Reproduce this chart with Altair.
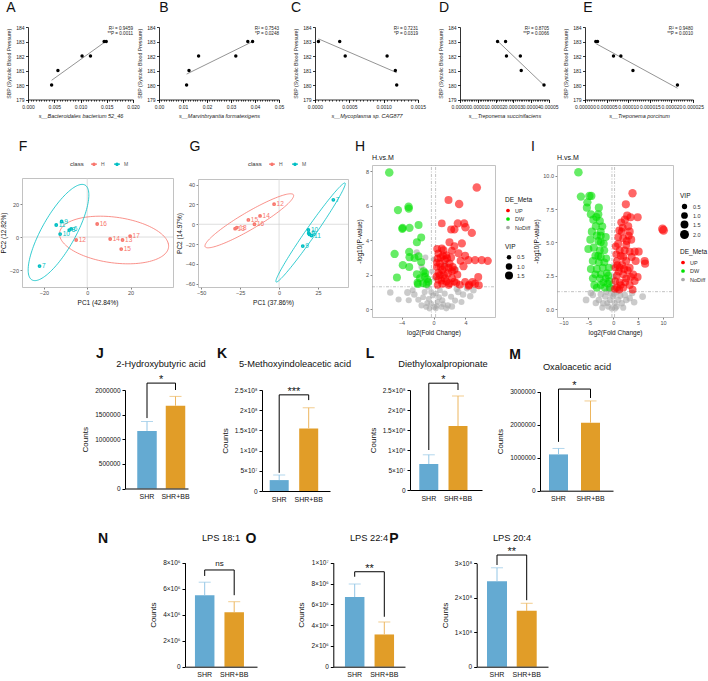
import altair as alt
import pandas as pd

W, H = 708, 681
FONT = "Liberation Sans"

# ---------------- Row 1: SBP correlations ----------------
SBP_TICKS = [179, 180, 181, 182, 183, 184]
A_X = [0.0045, 0.0057, 0.0103, 0.0119, 0.0145, 0.0149]
A_Y = [180, 181, 182, 182, 183, 183]
B_X = [0.0115, 0.0125, 0.0165, 0.0320, 0.0370, 0.0390]
B_Y = [180, 181, 182, 182, 183, 183]
C_X = [0.00005, 0.00036, 0.00044, 0.00105, 0.00117, 0.00119]
C_Y = [183, 183, 182, 182, 181, 180]
D_X = [0.0000211, 0.0000256, 0.0000261, 0.0000339, 0.0000344, 0.0000472]
D_Y = [183, 183, 182, 182, 181, 180]
E_X = [0.0000025, 0.0000029, 0.0000066, 0.0000083, 0.0000111, 0.0000214]
E_Y = [183, 183, 182, 182, 181, 180]
SC_XTITLES = ["s__Bacteroidales bacterium 52_46", "s__Marvinbryantia formatexigens",
              "s__Mycoplasma sp. CAG877", "s__Treponema succinifaciens", "s__Treponema porcinum"]
SC_R2 = ["R² = 0.9459", "R² = 0.7543", "R² = 0.7231", "R² = 0.8705", "R² = 0.9480"]
SC_P = ["**P = 0.0011", "*P = 0.0248", "*P = 0.0319", "**P = 0.0066", "**P = 0.0010"]
SC_XMAX = [0.02, 0.05, 0.0015, 0.00005, 0.000025]
SC_MAJOR = [0.005, 0.01, 0.0005, 0.00001, 0.000005]
SC_FMT = [".3f", ".2f", ".4f", ".5f", ".6f"]

# ---------------- Row 2: PCA ----------------
F_LAB = ["16", "12", "14", "13", "17", "15", "11", "9", "10", "8", "6", "7"]
F_X = [4.6, -5.1, 10.6, 16.3, 19.8, 15.7, -14.3, -11.8, -12.5, -8.3, -7.4, -22.0]
F_Y = [7.9, -1.8, -1.2, -1.8, 0.6, -7.3, 7.3, 9.4, 1.8, 4.2, 4.9, -17.6]
F_CLS = ["H"] * 6 + ["M"] * 6
G_LAB = ["12", "14", "15", "16", "18", "13", "7", "10", "8", "11", "9", "6"]
G_X = [-3.2, -12.2, -19.7, -15.8, -27.1, -28.2, 34.8, 18.8, 19.5, 20.8, 15.2, 19.0]
G_Y = [20.3, 8.4, 4.4, 0.0, -3.4, -4.5, 24.7, -5.8, -10.3, -11.5, -22.1, -9.0]
G_CLS = ["H"] * 6 + ["M"] * 6
# ellipse (class, centre x, centre y, semi-axis u, conjugate semi-axis v)
F_ELL = [("H", 12.4, -1.8, 25.0, -2.0, -3.0, 14.3), ("M", -13.25, 2.75, 12.25, 28.75, 6.8, -5.0)]
G_ELL = [("H", -19.1, 3.5, 28.3, 26.3, 2.8, -7.5), ("M", 20.2, -8.35, 22.1, 50.05, 2.6, -2.9)]

# ---------------- Row 2: volcano (log2FC, -log10 p, VIP) ----------------
H_UP = [(5.42, 7.05, 1.7), (1.88, 6.32, 1.5), (3.21, 6.09, 1.7), (1.04, 4.97, 1.4), (3.04, 4.97, 1.6),
        (3.84, 4.97, 1.6), (4.0, 4.75, 1.7), (2.21, 4.62, 1.5), (2.62, 4.62, 1.6), (4.8, 4.42, 1.6),
        (2.0, 3.88, 1.5), (3.55, 3.81, 1.6), (2.62, 3.65, 1.4), (1.04, 3.52, 1.4), (1.25, 3.42, 1.5),
        (2.3, 3.4, 1.4), (3.13, 3.24, 1.5), (3.96, 3.09, 1.5), (5.21, 2.84, 1.6), (6.04, 2.84, 1.6),
        (6.79, 2.8, 1.6), (4.38, 2.84, 1.6), (3.75, 2.49, 1.6), (2.4, 2.45, 1.5), (0.5, 2.93, 1.4),
        (0.79, 2.65, 1.5), (1.4, 2.84, 1.6), (2.0, 2.65, 1.6), (2.6, 2.27, 1.5), (1.1, 2.27, 1.5),
        (1.8, 2.07, 1.6), (0.8, 1.98, 1.5), (1.4, 1.8, 1.5), (2.3, 1.8, 1.5), (0.6, 1.7, 1.4),
        (1.1, 1.47, 1.5), (2.0, 1.5, 1.5), (2.85, 1.53, 1.4), (3.96, 1.58, 1.4), (4.88, 1.58, 1.5),
        (5.6, 1.87, 1.5), (5.2, 1.47, 1.5), (4.46, 1.41, 1.5), (5.67, 1.39, 1.5), (3.3, 1.41, 1.4),
        (0.4, 2.45, 1.3), (1.4, 2.45, 1.5), (0.6, 3.23, 1.4), (1.6, 3.13, 1.5), (0.35, 1.9, 1.3),
        (0.9, 3.0, 1.5), (1.7, 2.95, 1.5), (2.2, 3.0, 1.5), (0.6, 2.1, 1.4), (1.3, 2.0, 1.5),
        (1.9, 1.4, 1.4), (2.6, 1.6, 1.4), (0.5, 1.4, 1.3), (1.0, 1.65, 1.4), (1.6, 1.6, 1.5),
        (2.3, 2.2, 1.5), (0.9, 2.45, 1.5), (1.2, 3.1, 1.5), (1.9, 2.4, 1.5), (3.4, 2.8, 1.5),
        (3.0, 2.0, 1.4), (0.45, 3.5, 1.4), (0.4, 2.7, 1.3), (4.4, 1.35, 1.4)]
H_DW = [(-5.54, 7.92, 1.7), (-4.45, 5.74, 1.6), (-3.12, 5.93, 1.7), (-3.1, 5.82, 1.6), (-3.87, 4.71, 1.6),
        (-3.9, 4.65, 1.6), (-3.0, 4.71, 1.6), (-1.87, 4.87, 1.5), (-1.54, 4.15, 1.5), (-2.08, 3.88, 1.5),
        (-4.87, 3.2, 1.6), (-3.04, 3.32, 1.6), (-3.0, 3.01, 1.6), (-2.37, 2.97, 1.5), (-1.87, 3.07, 1.5),
        (-3.84, 2.55, 1.6), (-3.04, 2.45, 1.5), (-1.54, 2.74, 1.5), (-4.58, 1.84, 1.5), (-2.08, 2.03, 1.5),
        (-1.25, 2.2, 1.5), (-1.04, 2.1, 1.5), (-2.0, 1.53, 1.5), (-0.79, 1.74, 1.4), (-0.64, 1.58, 1.4),
        (-1.7, 1.8, 1.4), (-1.1, 1.9, 1.5), (-1.95, 1.45, 1.4), (-1.3, 1.5, 1.4), (-0.9, 1.45, 1.4)]
H_ND = [(-5.41, 0.97, 1.0), (-3.25, 0.97, 1.1), (-4.37, 0.56, 0.9), (-3.1, 0.52, 0.9), (-2.4, 0.85, 1.0),
        (-1.9, 0.55, 0.9), (-1.5, 0.22, 0.9), (-0.9, 0.13, 0.8), (-0.5, 0.04, 0.8), (-0.3, 0.33, 0.8),
        (0.1, 0.13, 0.8), (0.5, 0.42, 0.8), (1.1, 0.52, 0.9), (2.2, 0.72, 0.9), (1.8, 0.22, 0.9),
        (1.0, 0.13, 0.8), (2.3, 0.16, 1.0), (3.1, 1.0, 1.0), (3.7, 0.85, 1.0), (4.6, 0.75, 1.0),
        (5.0, 1.1, 1.0), (3.5, 0.42, 0.9), (-1.1, 1.0, 0.9), (-0.7, 1.3, 0.8), (-0.5, 1.6, 0.7),
        (0.0, 2.9, 0.7), (-0.2, 2.2, 0.7), (0.15, 1.8, 0.7), (-0.1, 0.8, 0.8), (0.3, 0.9, 0.8),
        (0.7, 0.7, 0.8), (-0.6, 0.6, 0.8), (-1.3, 0.7, 0.8), (1.4, 0.9, 0.9), (2.7, 0.5, 0.9),
        (2.9, 1.15, 0.9), (0.8, 1.1, 0.8), (-0.3, 1.0, 0.8), (0.4, 0.2, 0.8), (-2.1, 3.3, 0.9),
        (-1.5, 2.45, 0.9), (-1.0, 3.0, 0.8), (0.9, 2.0, 0.9), (1.5, 2.6, 0.9), (2.8, 2.3, 0.9),
        (0.3, 0.05, 0.8), (1.6, 0.05, 0.9), (-0.8, 0.35, 0.8), (4.2, 1.2, 0.9), (-2.6, 1.1, 0.8),
        (1.2, 0.3, 0.8)]
I_UP = [(3.87, 8.68, 1.7), (2.53, 7.85, 1.6), (3.47, 6.88, 1.6), (4.9, 6.88, 1.6), (2.33, 6.7, 1.6),
        (3.0, 6.2, 1.6), (1.7, 5.8, 1.5), (3.3, 5.8, 1.6), (2.0, 5.3, 1.5), (3.6, 5.2, 1.6),
        (1.0, 4.9, 1.5), (2.6, 4.8, 1.5), (1.3, 4.4, 1.5), (3.3, 4.3, 1.5), (4.3, 4.3, 1.6),
        (2.0, 3.9, 1.5), (0.7, 3.6, 1.4), (2.6, 3.6, 1.5), (4.5, 3.6, 1.6), (6.3, 3.6, 1.6),
        (6.4, 3.4, 1.6), (1.3, 3.1, 1.5), (3.3, 3.1, 1.5), (2.0, 2.6, 1.5), (4.0, 2.6, 1.5),
        (0.7, 2.5, 1.4), (2.6, 2.3, 1.5), (4.9, 2.4, 1.5), (4.3, 2.1, 1.5), (1.3, 2.0, 1.4),
        (3.3, 1.8, 1.5), (2.0, 1.6, 1.4), (0.7, 1.6, 1.4), (3.9, 1.45, 1.4), (0.4, 3.1, 1.3),
        (0.6, 4.1, 1.4), (1.0, 5.4, 1.4), (1.6, 6.5, 1.5), (2.7, 5.1, 1.5), (0.4, 2.1, 1.3),
        (9.9, 6.0, 2.0), (10.1, 5.9, 2.0), (2.8, 7.0, 1.6), (1.5, 4.0, 1.5), (1.8, 3.3, 1.5),
        (2.3, 4.4, 1.5), (1.1, 2.8, 1.4), (2.9, 2.9, 1.5), (3.7, 3.9, 1.5), (1.5, 1.8, 1.4),
        (2.4, 2.0, 1.4), (0.5, 4.7, 1.4), (1.9, 6.1, 1.5), (3.1, 5.5, 1.5), (1.2, 5.9, 1.5),
        (0.8, 3.3, 1.4), (2.2, 3.0, 1.5), (3.5, 2.4, 1.5), (0.3, 1.5, 1.3), (1.2, 1.45, 1.4),
        (5.1, 4.3, 1.6)]
I_DW = [(-7.0, 10.25, 1.8), (-6.5, 8.43, 1.7), (-4.8, 8.48, 1.7), (-4.4, 8.48, 1.7), (-5.2, 8.0, 1.7),
        (-5.3, 7.6, 1.6), (-2.9, 7.6, 1.6), (-4.5, 7.1, 1.6), (-3.0, 7.1, 1.6), (-4.0, 6.7, 1.6),
        (-2.7, 6.6, 1.6), (-3.5, 6.2, 1.6), (-4.3, 5.8, 1.6), (-2.5, 5.8, 1.5), (-3.3, 5.5, 1.6),
        (-1.5, 5.4, 1.5), (-3.0, 5.1, 1.5), (-2.5, 5.0, 1.5), (-5.0, 4.5, 1.6), (-3.9, 4.6, 1.6),
        (-2.7, 4.4, 1.5), (-1.8, 4.4, 1.5), (-3.6, 4.0, 1.5), (-2.5, 3.9, 1.5), (-4.1, 3.6, 1.6),
        (-2.9, 3.5, 1.5), (-1.8, 3.5, 1.5), (-4.5, 3.0, 1.5), (-3.3, 3.0, 1.5), (-2.1, 3.1, 1.5),
        (-3.6, 2.6, 1.5), (-2.5, 2.6, 1.5), (-1.3, 2.7, 1.4), (-4.1, 2.3, 1.5), (-2.7, 2.3, 1.5),
        (-1.5, 2.3, 1.4), (-3.8, 1.8, 1.5), (-2.5, 1.8, 1.5), (-1.1, 1.9, 1.4), (-3.3, 1.6, 1.5),
        (-1.7, 1.6, 1.4), (-0.8, 2.1, 1.4), (-1.0, 2.5, 1.4), (-0.9, 3.1, 1.4), (-2.5, 5.5, 1.5),
        (-3.4, 6.9, 1.6), (-2.2, 6.2, 1.5), (-1.9, 4.9, 1.5), (-1.4, 3.8, 1.4), (-0.7, 1.6, 1.3),
        (-2.0, 2.0, 1.4), (-3.0, 4.0, 1.5), (-4.6, 5.2, 1.6)]
I_ND = [(-5.46, 0.68, 1.0), (5.9, 0.93, 1.0), (-4.1, 1.05, 0.9), (-2.9, 0.68, 0.9), (-2.0, 0.43, 0.9),
        (-1.0, 0.18, 0.8), (-0.3, 0.05, 0.8), (0.7, 0.18, 0.8), (1.7, 0.43, 0.9), (2.6, 0.68, 0.9),
        (2.3, 1.05, 0.9), (3.3, 0.8, 0.9), (-2.5, 1.1, 0.9), (-1.6, 0.93, 0.9), (-0.7, 0.68, 0.8),
        (0.0, 0.93, 0.8), (1.0, 0.68, 0.8), (-1.4, 1.3, 0.8), (-0.3, 1.6, 0.7), (-0.2, 1.9, 0.7),
        (0.7, 1.3, 0.8), (0.1, 2.4, 0.7), (-0.1, 3.2, 0.6), (-3.5, 0.45, 0.9), (-4.5, 1.2, 0.9),
        (4.2, 0.5, 0.9), (3.8, 1.2, 0.9), (-1.2, 0.45, 0.8), (0.3, 0.45, 0.8), (1.4, 1.0, 0.8),
        (-0.5, 1.15, 0.8), (0.4, 0.05, 0.8), (2.0, 0.1, 0.8), (-2.2, 0.1, 0.8), (1.0, 1.45, 0.7),
        (-0.9, 1.5, 0.7), (0.2, 1.1, 0.8)]
P_CUT = 1.3
FC_CUT = 0.263

# ---------------- Rows 3-4: bar charts ----------------
GROUPS = ["SHR", "SHR+BB"]
BAR_TITLES = ["2-Hydroxybutyric acid", "5-Methoxyindoleacetic acid", "Diethyloxalpropionate",
              "Oxaloacetic acid", "LPS 18:1", "LPS 22:4", "LPS 20:4"]
SHR_MEAN = [1.17e6, 2.7e7, 6.5e7, 1.1e6, 5.5e6, 6.7e6, 2.48e8]
SHR_SD = [0.19e6, 1.26e7, 2.3e7, 0.18e6, 1.0e6, 1.25e6, 0.39e8]
BB_MEAN = [1.68e6, 1.55e8, 1.6e8, 2.06e6, 4.18e6, 3.1e6, 1.62e8]
BB_SD = [0.19e6, 0.51e8, 0.75e8, 0.66e6, 0.82e6, 1.2e6, 0.22e8]
SIG = ["*", "***", "*", "*", "ns", "**", "**"]
BR_LEFT = [1.43e6, 0.45e8, 1.0e8, 1.48e6, 6.98e6, 8.65e6, 2.95e8]
BR_TOP = [2.14e6, 2.38e8, 2.67e8, 3.08e6, 7.44e6, 9.13e6, 3.24e8]
BR_RIGHT = [2.0e6, 2.25e8, 2.5e8, 2.81e6, 5.5e6, 4.8e6, 1.93e8]
Y_MAX = [2e6, 2.5e8, 2.5e8, 3e6, 8e6, 1e7, 3e8]
Y_TICKS = [[0, 5e5, 1e6, 1.5e6, 2e6],
           [0, 5e7, 1e8, 1.5e8, 2e8, 2.5e8],
           [0, 5e7, 1e8, 1.5e8, 2e8, 2.5e8],
           [0, 1e6, 2e6, 3e6],
           [0, 2e6, 4e6, 6e6, 8e6],
           [0, 2e6, 4e6, 6e6, 8e6, 1e7],
           [0, 1e8, 2e8, 3e8]]
Y_LABELS = [["0", "500000", "1000000", "1500000", "2000000"],
            ["0", "5×10⁷", "1×10⁸", "1.5×10⁸", "2×10⁸", "2.5×10⁸"],
            ["0", "5×10⁷", "1×10⁸", "1.5×10⁸", "2×10⁸", "2.5×10⁸"],
            ["0", "1000000", "2000000", "3000000"],
            ["0", "2×10⁶", "4×10⁶", "6×10⁶", "8×10⁶"],
            ["0", "2×10⁶", "4×10⁶", "6×10⁶", "8×10⁶", "1×10⁷"],
            ["0", "1×10⁸", "2×10⁸", "3×10⁸"]]

# ---------------- layout (pixels) ----------------
SC_XR = [(28, 133), (159, 279), (315, 418), (460, 549), (585, 693)]
SC_YR = (99.5, 27)
F_XR, F_YR, F_XDOM, F_YDOM = (22, 173), (287, 178), [-30.1, 39.6], [-30.3, 35.8]
G_XR, G_YR, G_XDOM, G_YDOM = (198, 348), (287, 179), [-52, 44.2], [-63.5, 45.8]
HV_XR, HV_YR, HV_XDOM, HV_YDOM = (372, 495), (317, 165), [-7.7, 7.7], [-0.45, 8.35]
IV_XR, IV_YR, IV_XDOM, IV_YDOM = (557, 673), (317, 165), [-11.3, 12.0], [-0.6, 10.8]
BAR_LAYOUT = [  # x0, xend, centre1, centre2, bar width, y0, y at ymax
    (125, 188, 147, 175.5, 19.5, 488.5, 390),
    (262, 330, 279.2, 308.7, 19, 491, 390),
    (410, 482, 428.8, 458, 19, 490, 390),
    (540, 613, 558.5, 590.5, 19, 490.7, 391.7),
    (185, 257, 204.7, 234.2, 19.5, 666.7, 562.7),
    (333.3, 405, 354.7, 384.3, 19.5, 666.7, 562.7),
    (476.7, 548, 497, 526.7, 20, 666.7, 563.3),
]
BAR_TITLE_POS = [(161, 364), (295, 364), (443, 364), (577, 367), (221, 538), (369, 538), (512, 538)]
LETTERS = [("A", 11, 8), ("B", 164, 8), ("C", 296, 8), ("D", 444, 8), ("E", 588, 8),
           ("F", 23, 147), ("G", 195, 147), ("H", 360, 147), ("I", 533, 147),
           ("J", 100, 354), ("K", 222, 354), ("L", 370, 354), ("M", 515, 355),
           ("N", 103, 539), ("O", 251, 539), ("P", 394, 539)]

PCA_RED, PCA_CYAN = "#F8766D", "#00BFC4"
V_RED, V_GREEN, V_GREY = "#FF0000", "#00E000", "#A8A8A8"
BLUE, ORANGE = "#64AAD2", "#E19D28"
BLUE_L, ORANGE_L = "#93C6E6", "#EDB65E"
FRAME = "#B3B3B3"

DUMMY = pd.DataFrame({"k": [0]})


def txt(s, x, y, size, weight="normal", align="center", baseline="middle", color="black", style="normal"):
    return alt.Chart(DUMMY).mark_text(text=s, font=FONT, fontSize=size, fontWeight=weight, align=align,
                                      baseline=baseline, color=color, fontStyle=style).encode(
        x=alt.value(x), y=alt.value(y))


# ---------------- panels ----------------
def scatter_panel(i, xs, ys):
    xr, yr = SC_XR[i], SC_YR
    xmax, step = SC_XMAX[i], SC_MAJOR[i]
    nmaj = round(xmax / step)
    major = [round(k * step, 12) for k in range(nmaj + 1)]
    minor = [round(k * step / 10, 12) for k in range(nmaj * 10 + 1)]
    df = pd.DataFrame({"x": xs, "y": ys})
    sx = alt.Scale(domain=[0, xmax], range=list(xr), nice=False, zero=False)
    sy = alt.Scale(domain=[179, 184], range=list(yr), nice=False, zero=False)
    base = alt.Chart(df)
    ax_x = alt.Axis(orient="bottom", offset=yr[0] - H, values=major, format=SC_FMT[i], title=SC_XTITLES[i],
                    titleFontStyle="italic", titleFontWeight="normal", titleFontSize=5.5, titleColor="#222",
                    labelFontSize=5, labelColor="#222", tickSize=3, tickColor="black", tickWidth=0.8,
                    domainColor="black", domainWidth=0.8, labelPadding=1.5, titlePadding=4, grid=False,
                    labelFlush=False, labelOverlap=False)
    ax_y = alt.Axis(orient="left", offset=-xr[0], values=SBP_TICKS, format="d",
                    title="SBP (Systolic Blood Pressure)", titleFontWeight="normal", titleFontSize=5.2,
                    titleColor="#222", labelFontSize=5, labelColor="#222", tickSize=2.5, tickColor="black",
                    tickWidth=0.8, domainColor="black", domainWidth=0.8, labelPadding=1.5, titlePadding=4,
                    grid=False)
    minor_l = base.mark_point(opacity=0).encode(
        x=alt.X("x:Q", scale=sx, axis=alt.Axis(orient="bottom", offset=yr[0] - H, values=minor, labels=False,
                                               domain=False, tickSize=1.6, tickColor="black", tickWidth=0.7,
                                               title=None, grid=False)),
        y=alt.Y("y:Q", scale=sy, axis=None))
    reg = base.transform_regression("x", "y").mark_line(color="#666666", strokeWidth=0.7).encode(
        x=alt.X("x:Q", scale=sx, axis=None), y=alt.Y("y:Q", scale=sy, axis=None))
    pts = base.mark_point(filled=True, size=12, color="black", opacity=1).encode(
        x=alt.X("x:Q", scale=sx, axis=ax_x), y=alt.Y("y:Q", scale=sy, axis=ax_y))
    t1 = txt(SC_R2[i], xr[1], yr[1] + 2, 4.6, align="right", color="#222")
    t2 = txt(SC_P[i], xr[1], yr[1] + 6.5, 4.6, align="right", color="#222")
    return alt.layer(minor_l, reg, pts, t1, t2).resolve_axis(x="independent", y="independent")


GG_AX = dict(grid=False, domainColor=FRAME, domainWidth=0.8, tickColor="#333333", tickSize=2, tickWidth=0.6,
             labelColor="#4D4D4D", labelFontSize=5.5, titleFontSize=6.5, titleFontWeight="normal",
             titleColor="#111", labelPadding=1.5, titlePadding=3, labelFlush=False)
FRAME_AX = dict(ticks=False, labels=False, domainColor=FRAME, domainWidth=0.8, title=None, grid=False)


def frame_layers(sx, sy, xr, yr, xdom, ydom, xvals, yvals, color, width, dash):
    vdf = pd.DataFrame({"x": xvals, "y1": [ydom[0]] * len(xvals), "y2": [ydom[1]] * len(xvals)})
    hdf = pd.DataFrame({"y": yvals, "x1": [xdom[0]] * len(yvals), "x2": [xdom[1]] * len(yvals)})
    mk = dict(color=color, strokeWidth=width)
    if dash:
        mk["strokeDash"] = dash
    v = alt.Chart(vdf).mark_rule(**mk).encode(
        x=alt.X("x:Q", scale=sx, axis=alt.Axis(orient="top", offset=-yr[1], **FRAME_AX)),
        y=alt.Y("y1:Q", scale=sy, axis=None), y2="y2:Q")
    h = alt.Chart(hdf).mark_rule(**mk).encode(
        y=alt.Y("y:Q", scale=sy, axis=alt.Axis(orient="right", offset=xr[1] - W, **FRAME_AX)),
        x=alt.X("x1:Q", scale=sx, axis=None), x2="x2:Q")
    return [v, h]


def pca_panel(labs, xs, ys, cls, xdom, xr, ydom, yr, xt, yt, xtitle, ytitle, ells, legx, legy):
    df = pd.DataFrame({"lab": labs, "x": xs, "y": ys, "cls": cls})
    sx = alt.Scale(domain=xdom, range=list(xr), nice=False, zero=False)
    sy = alt.Scale(domain=ydom, range=list(yr), nice=False, zero=False)
    cols = {"H": PCA_RED, "M": PCA_CYAN}
    layers = frame_layers(sx, sy, xr, yr, xdom, ydom, [0], [0], "#D0D0D0", 0.7, None)
    for c, cx, cy, ux, uy, vx, vy in ells:
        e = alt.Chart(alt.sequence(0, 6.35, 0.05, as_="t")).transform_calculate(
            ex=f"{cx} + {ux}*cos(datum.t) + {vx}*sin(datum.t)",
            ey=f"{cy} + {uy}*cos(datum.t) + {vy}*sin(datum.t)").mark_line(
            color=cols[c], strokeWidth=0.8).encode(
            x=alt.X("ex:Q", scale=sx, axis=None), y=alt.Y("ey:Q", scale=sy, axis=None), order="t:Q")
        layers.append(e)
    pts = alt.Chart(df).mark_point(filled=False, size=5, strokeWidth=1.6, opacity=1).encode(
        x=alt.X("x:Q", scale=sx, axis=alt.Axis(orient="bottom", offset=yr[0] - H, values=xt, format="d",
                                               title=xtitle, **GG_AX)),
        y=alt.Y("y:Q", scale=sy, axis=alt.Axis(orient="left", offset=-xr[0], values=yt, format="d",
                                               title=ytitle, **GG_AX)),
        color=alt.Color("cls:N", scale=alt.Scale(domain=["H", "M"], range=[PCA_RED, PCA_CYAN]),
                        legend=alt.Legend(orient="none", legendX=legx, legendY=legy, direction="horizontal",
                                          title="class", titleOrient="left", titleFontSize=6,
                                          titleFontWeight="normal", titleColor="#333", labelFontSize=5,
                                          labelColor="#555", symbolType="M-1,0L1,0M0.4,0A0.4,0.4,0,1,1,-0.4,0A0.4,0.4,0,1,1,0.4,0",
                                          symbolSize=36, symbolStrokeWidth=1.2, columnPadding=6,
                                          labelOffset=3, titlePadding=6, padding=0)))
    layers.append(pts)
    for c in ["H", "M"]:
        t = alt.Chart(df).transform_filter(f"datum.cls == '{c}'").mark_text(
            align="left", baseline="middle", dx=2.5, fontSize=6.5, color=cols[c], font=FONT).encode(
            x=alt.X("x:Q", scale=sx, axis=None), y=alt.Y("y:Q", scale=sy, axis=None), text="lab:N")
        layers.append(t)
    return alt.layer(*layers).resolve_axis(x="independent", y="independent")


def volcano_panel(up, dw, nd, xdom, xr, ydom, yr, xt, yt, yfmt, sdom, srng, svals, cleg, sleg):
    rows = ([{"x": a, "y": b, "vip": c, "de": "NoDiff"} for a, b, c in nd] +
            [{"x": a, "y": b, "vip": c, "de": "DW"} for a, b, c in dw] +
            [{"x": a, "y": b, "vip": c, "de": "UP"} for a, b, c in up])
    df = pd.DataFrame(rows)
    df["o"] = range(len(df))
    sx = alt.Scale(domain=xdom, range=list(xr), nice=False, zero=False)
    sy = alt.Scale(domain=ydom, range=list(yr), nice=False, zero=False)
    layers = frame_layers(sx, sy, xr, yr, xdom, ydom, [-FC_CUT, FC_CUT], [P_CUT], "#9A9A9A", 0.6, [3, 1.5, 1, 1.5])
    leg_common = dict(orient="none", titleFontSize=6.5, titleFontWeight="normal", titleColor="#111",
                      labelFontSize=5.5, labelColor="#333", padding=0, titlePadding=4, rowPadding=1.5,
                      labelOffset=4, symbolOpacity=1)
    pts = alt.Chart(df).mark_circle(opacity=0.6).encode(
        x=alt.X("x:Q", scale=sx, axis=alt.Axis(orient="bottom", offset=yr[0] - H, values=xt, format="d",
                                               title="log2(Fold Change)", **GG_AX)),
        y=alt.Y("y:Q", scale=sy, axis=alt.Axis(orient="left", offset=-xr[0], values=yt, format=yfmt,
                                               title="-log10(P-value)", **GG_AX)),
        color=alt.Color("de:N", scale=alt.Scale(domain=["UP", "DW", "NoDiff"], range=[V_RED, V_GREEN, V_GREY]),
                        legend=alt.Legend(title="DE_Meta", legendX=cleg[0], legendY=cleg[1], symbolSize=14,
                                          symbolType="circle", **leg_common)),
        size=alt.Size("vip:Q", scale=alt.Scale(domain=sdom, range=srng, zero=False),
                      legend=alt.Legend(title="VIP", legendX=sleg[0], legendY=sleg[1], values=svals,
                                        format=".1f", symbolFillColor="black", symbolStrokeColor="black",
                                        symbolStrokeWidth=0, symbolType="circle", **leg_common)),
        order=alt.Order("o:Q"))
    layers.append(pts)
    layers.append(txt("H.vs.M", xr[0], yr[1] - 7, 7, align="left", color="#111"))
    return alt.layer(*layers).resolve_axis(x="independent", y="independent")


def label_expr(vals, labs):
    parts = [f"datum.value == {float(v)!r} ? '{l}'" for v, l in zip(vals, labs)]
    return " : ".join(parts) + " : ''"


def bar_panel(i):
    x0, xend, c1, c2, w, y0, ytop = BAR_LAYOUT[i]
    step = c2 - c1
    pin = (step - w) / step
    left = (c1 - w / 2) - x0
    right = xend - (c2 + w / 2)
    pout = (left + right) / (2 * step)
    al = left / (left + right)
    sx = alt.Scale(domain=GROUPS, range=[x0, xend], paddingInner=pin, paddingOuter=pout, align=al)
    sy = alt.Scale(domain=[0, Y_MAX[i]], range=[y0, ytop], nice=False, zero=False)
    df = pd.DataFrame({"g": GROUPS, "m": [SHR_MEAN[i], BB_MEAN[i]], "sd": [SHR_SD[i], BB_SD[i]]})
    base = alt.Chart(df).transform_calculate(hi="datum.m + datum.sd")
    fillc = alt.condition("datum.g == 'SHR'", alt.value(BLUE), alt.value(ORANGE))
    linec = alt.condition("datum.g == 'SHR'", alt.value(BLUE_L), alt.value(ORANGE_L))
    bars = base.mark_bar().encode(
        x=alt.X("g:N", scale=sx, sort=GROUPS,
                axis=alt.Axis(orient="bottom", offset=y0 - H, ticks=False, domainColor="black", domainWidth=1,
                              labelFontSize=7, labelColor="#111", labelPadding=4, labelAngle=0, title=None,
                              grid=False, zindex=1)),
        y=alt.Y("m:Q", scale=sy,
                axis=alt.Axis(orient="left", offset=-x0, values=Y_TICKS[i],
                              labelExpr=label_expr(Y_TICKS[i], Y_LABELS[i]), title="Counts", titleFontSize=8,
                              titleFontWeight="normal", titleColor="#111", labelFontSize=6.5,
                              labelColor="#111", tickSize=3, tickColor="black", tickWidth=1,
                              domainColor="black", domainWidth=1, labelPadding=2, titlePadding=5,
                              grid=False, zindex=1)),
        color=fillc)
    err = base.mark_rule(strokeWidth=1).encode(
        x=alt.X("g:N", scale=sx, sort=GROUPS, axis=None), y=alt.Y("m:Q", scale=sy, axis=None),
        y2="hi:Q", color=linec)
    cap = base.mark_tick(thickness=1, size=12).encode(
        x=alt.X("g:N", scale=sx, sort=GROUPS, axis=None), y=alt.Y("hi:Q", scale=sy, axis=None), color=linec)
    bdf = pd.DataFrame({"g": ["SHR", "SHR", "SHR+BB", "SHR+BB"],
                        "v": [BR_LEFT[i], BR_TOP[i], BR_TOP[i], BR_RIGHT[i]], "o": [0, 1, 2, 3]})
    br = alt.Chart(bdf).mark_line(color="black", strokeWidth=1).encode(
        x=alt.X("g:N", scale=sx, sort=GROUPS, axis=None), y=alt.Y("v:Q", scale=sy, axis=None), order="o:Q")
    sdf = pd.DataFrame({"v": [BR_TOP[i]], "s": [SIG[i]]})
    ns = SIG[i] == "ns"
    star = alt.Chart(sdf).mark_text(font=FONT, fontSize=8 if ns else 11, baseline="middle",
                                    dy=-6 if ns else -3, color="#111").encode(
        x=alt.value((c1 + c2) / 2), y=alt.Y("v:Q", scale=sy, axis=None), text="s:N")
    tx, ty = BAR_TITLE_POS[i]
    title = txt(BAR_TITLES[i], tx, ty, 9.3, color="#111")
    return alt.layer(bars, err, cap, br, star, title).resolve_axis(x="independent", y="independent")


layers = []
for i, (xs, ys) in enumerate([(A_X, A_Y), (B_X, B_Y), (C_X, C_Y), (D_X, D_Y), (E_X, E_Y)]):
    layers.append(scatter_panel(i, xs, ys))
layers.append(pca_panel(F_LAB, F_X, F_Y, F_CLS, F_XDOM, F_XR, F_YDOM, F_YR, [-20, 0, 20, 40], [-20, 0, 20],
                        "PC1 (42.84%)", "PC2 (12.82%)", F_ELL, 70, 160))
layers.append(pca_panel(G_LAB, G_X, G_Y, G_CLS, G_XDOM, G_XR, G_YDOM, G_YR, [-50, -25, 0, 25],
                        [-60, -40, -20, 0, 20, 40], "PC1 (37.86%)", "PC2 (14.97%)", G_ELL, 248, 160))
layers.append(volcano_panel(H_UP, H_DW, H_ND, HV_XDOM, HV_XR, HV_YDOM, HV_YR, [-4, 0, 4], [0, 2, 4, 6, 8], "d",
                            [0.5, 1.5], [20, 64], [0.5, 1.0, 1.5], (505, 197), (505, 244)))
layers.append(volcano_panel(I_UP, I_DW, I_ND, IV_XDOM, IV_XR, IV_YDOM, IV_YR, [-10, -5, 0, 5, 10],
                            [0, 2.5, 5, 7.5, 10], ".1f", [0.5, 2.0], [28, 80], [0.5, 1.0, 1.5, 2.0],
                            (680, 249), (680, 193)))
for i in range(7):
    layers.append(bar_panel(i))
for s, x, y in LETTERS:
    layers.append(txt(s, x, y, 14, weight="bold" if s in "JKLMNOP" else "normal", color="#111"))

chart = alt.layer(*layers).resolve_scale(
    x="independent", y="independent", color="independent", size="independent"
).properties(
    width=W, height=H, padding=0, autosize=alt.AutoSizeParams(type="none"), background="white"
).configure_view(stroke=None).configure_axis(
    grid=False, labelFont=FONT, titleFont=FONT
).configure_legend(labelFont=FONT, titleFont=FONT).configure_text(font=FONT)

chart.save("out.html", embed_options={"renderer": "svg", "actions": False})
